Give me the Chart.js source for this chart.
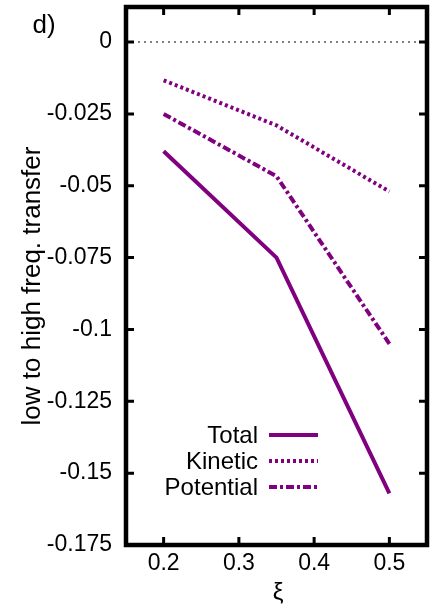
<!DOCTYPE html>
<html lang="en">
<head>
    <meta charset="UTF-8">
    <script src="https://cdn.jsdelivr.net/npm/chart.js@4.4.1/dist/chart.umd.min.js"></script>
    <title>transfer</title>
    <style>
        html, body { margin: 0; padding: 0; background: #fff; }
        #wrap { width: 432px; height: 609px; position: relative; }
    </style>
</head>
<body>
<div id="wrap"><canvas id="chart"></canvas></div>
<script>
    // data
    const xi = [0.2, 0.35, 0.5];
    const total = [-0.038, -0.075, -0.157];
    const kinetic = [-0.0133, -0.029, -0.052];
    const potential = [-0.025, -0.0467, -0.105];
    const seriesNames = ['Total', 'Kinetic', 'Potential'];
    const xTicks = [0.2, 0.3, 0.4, 0.5];
    const yTicks = [0, -0.025, -0.05, -0.075, -0.1, -0.125, -0.15, -0.175];

    const purple = '#800080';
    const FONT = 'Liberation Sans, Arial, sans-serif';

    function pts(ys) {
        return xi.map((x, i) => ({ x: x, y: ys[i] }));
    }

    // no extra room for half tick labels, chart area is fixed by hand
    function noPad(s) {
        s.paddingTop = 0;
        s.paddingBottom = 0;
        s.paddingLeft = 0;
        s.paddingRight = 0;
    }

    // frame, inward ticks, zero line, legend and texts
    const decorations = {
        id: 'decorations',
        beforeDatasetsDraw(chart) {
            const { ctx, chartArea: a, scales } = chart;
            const y0 = scales.y.getPixelForValue(0);
            ctx.save();
            ctx.strokeStyle = '#808080';
            ctx.lineWidth = 2;
            ctx.setLineDash([2, 4]);
            ctx.beginPath();
            ctx.moveTo(a.left, y0);
            ctx.lineTo(a.right, y0);
            ctx.stroke();
            ctx.restore();
        },
        afterDatasetsDraw(chart) {
            const { ctx, chartArea: a, scales } = chart;
            ctx.save();
            ctx.setLineDash([]);
            ctx.strokeStyle = '#000';
            ctx.lineWidth = 4.5;
            ctx.strokeRect(a.left, a.top, a.right - a.left, a.bottom - a.top);
            ctx.lineWidth = 3;
            ctx.beginPath();
            yTicks.forEach(v => {
                const p = scales.y.getPixelForValue(v);
                ctx.moveTo(a.left, p); ctx.lineTo(a.left + 8, p);
                ctx.moveTo(a.right, p); ctx.lineTo(a.right - 8, p);
            });
            xTicks.forEach(v => {
                const p = scales.x.getPixelForValue(v);
                ctx.moveTo(p, a.bottom); ctx.lineTo(p, a.bottom - 8);
                ctx.moveTo(p, a.top); ctx.lineTo(p, a.top + 8);
            });
            ctx.stroke();
            ctx.restore();
        },
        afterDraw(chart) {
            const { ctx } = chart;
            ctx.save();
            // legend
            ctx.font = '24px ' + FONT;
            ctx.fillStyle = '#000';
            ctx.textAlign = 'right';
            ctx.textBaseline = 'middle';
            chart.data.datasets.forEach((ds, i) => {
                const yy = 435 + i * 26;
                ctx.fillText(ds.label, 258, yy + 1);
                ctx.strokeStyle = ds.borderColor;
                ctx.lineWidth = ds.borderWidth;
                ctx.setLineDash(ds.borderDash || []);
                ctx.beginPath();
                ctx.moveTo(269, yy);
                ctx.lineTo(318, yy);
                ctx.stroke();
            });
            ctx.setLineDash([]);

            // panel label, axis titles
            ctx.textAlign = 'center';
            ctx.font = '26px ' + FONT;
            ctx.fillText('d)', 44, 26);
            ctx.font = '24px ' + FONT;
            ctx.fillText('ξ', 278, 593);
            ctx.font = '26px ' + FONT;
            ctx.translate(33, 286);
            ctx.rotate(-Math.PI / 2);
            ctx.fillText('low to high freq. transfer', 0, 0);
            ctx.restore();
        }
    };

    new Chart(document.getElementById('chart'), {
        type: 'line',
        data: {
            datasets: [
                { label: seriesNames[0], data: pts(total), borderColor: purple, borderWidth: 4, pointRadius: 0 },
                { label: seriesNames[1], data: pts(kinetic), borderColor: purple, borderWidth: 4, borderDash: [3, 3], pointRadius: 0 },
                { label: seriesNames[2], data: pts(potential), borderColor: purple, borderWidth: 4, borderDash: [8, 3, 3, 3], pointRadius: 0 }
            ]
        },
        options: {
            responsive: true,
            maintainAspectRatio: false,
            animation: false,
            layout: { padding: { top: 7, right: 5, left: 0, bottom: 0 } },
            plugins: { legend: { display: false }, tooltip: { enabled: false } },
            scales: {
                x: {
                    type: 'linear',
                    min: 0.15,
                    max: 0.55,
                    afterBuildTicks: s => { s.ticks = xTicks.map(v => ({ value: v })); },
                    afterFit: s => { s.height = 64; noPad(s); },
                    grid: { display: false, drawTicks: false },
                    border: { display: false },
                    ticks: {
                        color: '#000',
                        font: { family: FONT, size: 23 },
                        padding: 5,
                        maxRotation: 0,
                        callback: v => String(v)
                    }
                },
                y: {
                    type: 'linear',
                    min: -0.175,
                    max: 0.0122,
                    afterBuildTicks: s => { s.ticks = yTicks.map(v => ({ value: v })); },
                    afterFit: s => { s.width = 126; noPad(s); },
                    grid: { display: false, drawTicks: false },
                    border: { display: false },
                    ticks: {
                        color: '#000',
                        font: { family: FONT, size: 23 },
                        padding: 14,
                        callback: v => String(v)
                    }
                }
            }
        },
        plugins: [decorations]
    });
</script>
</body>
</html>
